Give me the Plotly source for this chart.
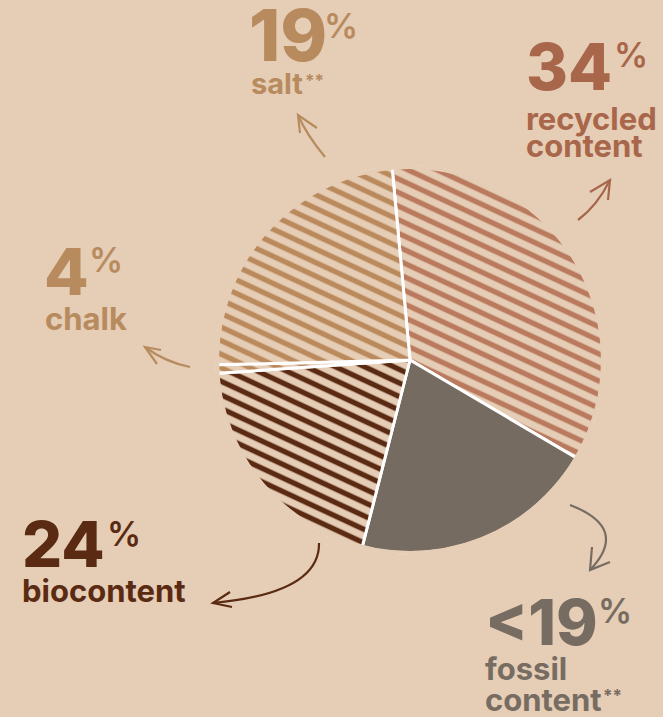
import plotly.graph_objects as go

# ---------------- data ----------------
categories = ["recycled content", "fossil content", "biocontent", "chalk", "salt"]
label_values = ["34", "<19", "24", "4", "19"]          # printed percentages
label_notes = ["", "**", "", "", "**"]                # footnote markers
drawn_share = [34.9, 20.5, 19.9, 0.7, 23.9]           # slice sizes as drawn

# ---------------- style ----------------
W, H = 663, 717
BG = "#e5cdb6"
stripe_colors = ["#b97a5e", "#766b60", "#5b2a12", "#bb8a5c", "#bb8a5c"]
text_colors = ["#a8664a", "#776c61", "#5a2b12", "#b88b5f", "#b88b5f"]
pattern_shapes = ["-", "", "-", "-", "-"]
FONT = "Inter"

# pie geometry (pixels)
CX, CY, R = 410, 360, 193


def px(x):
    return x / W


def py(y):
    return 1 - y / H


fig = go.Figure()
fig.add_trace(go.Pie(
    labels=categories,
    values=drawn_share,
    sort=False,
    direction="clockwise",
    rotation=-5.3,
    textinfo="none",
    hoverinfo="skip",
    showlegend=False,
    marker=dict(
        colors=stripe_colors,
        line=dict(color="white", width=3),
        pattern=dict(
            shape=pattern_shapes,
            fgcolor=stripe_colors,
            bgcolor=[BG, stripe_colors[1], BG, BG, BG],
            size=12.3,
            solidity=0.43,
            fillmode="replace",
        ),
    ),
    domain=dict(x=[px(CX - R), px(CX + R)], y=[py(CY + R), py(CY - R)]),
))

annotations = []


def add_text(text, left, baseline, size, color, weight):
    yc = baseline - 0.364 * size
    annotations.append(dict(
        text=text, x=px(left), y=py(yc), xref="paper", yref="paper",
        xanchor="left", yanchor="middle", showarrow=False, borderpad=0,
        font=dict(family=FONT, size=size, color=color, weight=weight),
    ))


def add_note(text, left, center, size, color):
    baseline = center + 0.54 * size
    add_text(text, left, baseline, size, color, 700)


# label layout: number (left, baseline, size), % (left, baseline),
# word lines [(text, left, baseline)], note (left, center)
label_layout = {
    "recycled content": dict(num=(525, 90, 64), pct=(613, 67),
                             words=[("recycled", 525, 130), ("content", 525, 157)],
                             word_size=31, note=None),
    "fossil content": dict(num=(484, 645, 63), pct=(597, 623),
                           words=[("fossil", 484, 680), ("content", 484, 711)],
                           word_size=31, note=(602, 693)),
    "biocontent": dict(num=(21, 567, 63), pct=(106, 546),
                       words=[("biocontent", 21, 602)], word_size=31, note=None),
    "chalk": dict(num=(43, 295, 65), pct=(88, 272),
                  words=[("chalk", 44, 330)], word_size=31, note=None),
    "salt": dict(num=(248, 61, 71), pct=(323, 38),
                 words=[("salt", 250, 94)], word_size=29, note=(304, 78)),
}

PCT_SIZE = 34

for i, cat in enumerate(categories):
    lay = label_layout[cat]
    col = text_colors[i]
    nx, nb, ns = lay["num"]
    add_text(label_values[i], nx, nb, ns, col, 800)
    add_text("%", lay["pct"][0], lay["pct"][1], PCT_SIZE, col, 600)
    for (t, lx, lb) in lay["words"]:
        add_text(t, lx, lb, lay["word_size"], col, 700)
    if lay["note"] and label_notes[i]:
        add_note(label_notes[i], lay["note"][0], lay["note"][1], 17, col)

# curved arrows: (start, control, tip, barb1, barb2)
arrow_layout = {
    "recycled content": ((578, 220), (597, 206), (610, 180), (590, 192), (608, 200)),
    "fossil content": ((570, 505), (630, 528), (590, 570), (592, 547), (610, 562)),
    "biocontent": ((319, 543), (320, 593), (213, 603), (230, 592), (232, 607)),
    "chalk": ((190, 367), (165, 362), (145, 347), (157, 364), (161, 350)),
    "salt": ((325, 157), (306, 134), (298, 115), (300, 133), (317, 128)),
}

shapes = []
for i, cat in enumerate(categories):
    s, c, t, b1, b2 = arrow_layout[cat]
    col = text_colors[i]
    curve = "M {},{} Q {},{} {},{}".format(px(s[0]), py(s[1]), px(c[0]), py(c[1]), px(t[0]), py(t[1]))
    head = "M {},{} L {},{} L {},{}".format(px(b1[0]), py(b1[1]), px(t[0]), py(t[1]), px(b2[0]), py(b2[1]))
    for p in (curve, head):
        shapes.append(dict(type="path", path=p, xref="paper", yref="paper",
                           line=dict(color=col, width=2.2), layer="above"))

# hide white stroke on the outer arc of the pie
shapes.append(dict(type="circle", xref="paper", yref="paper",
                   x0=px(CX - R), x1=px(CX + R), y0=py(CY + R), y1=py(CY - R),
                   line=dict(color=BG, width=4), layer="above"))

fig.update_layout(
    width=W, height=H,
    margin=dict(l=0, r=0, t=0, b=0),
    paper_bgcolor=BG, plot_bgcolor=BG,
    annotations=annotations,
    shapes=shapes,
    hovermode=False,
)

post = """
document.documentElement.style.margin='0';
document.documentElement.style.padding='0';
document.documentElement.style.overflow='hidden';
document.body.style.margin='0';
document.body.style.padding='0';
document.body.style.overflow='hidden';
document.body.style.background='%s';
function rotPatterns(){
  var pats = document.querySelectorAll('pattern');
  for (var k = 0; k < pats.length; k++) {
    var p = pats[k];
    if (p.getAttribute('patternTransform') !== 'rotate(25)') {
      p.setAttribute('patternTransform', 'rotate(25)');
    }
  }
}
rotPatterns();
setInterval(rotPatterns, 30);
""" % BG

fig.write_html("out.html", post_script=post, config=dict(staticPlot=True))
